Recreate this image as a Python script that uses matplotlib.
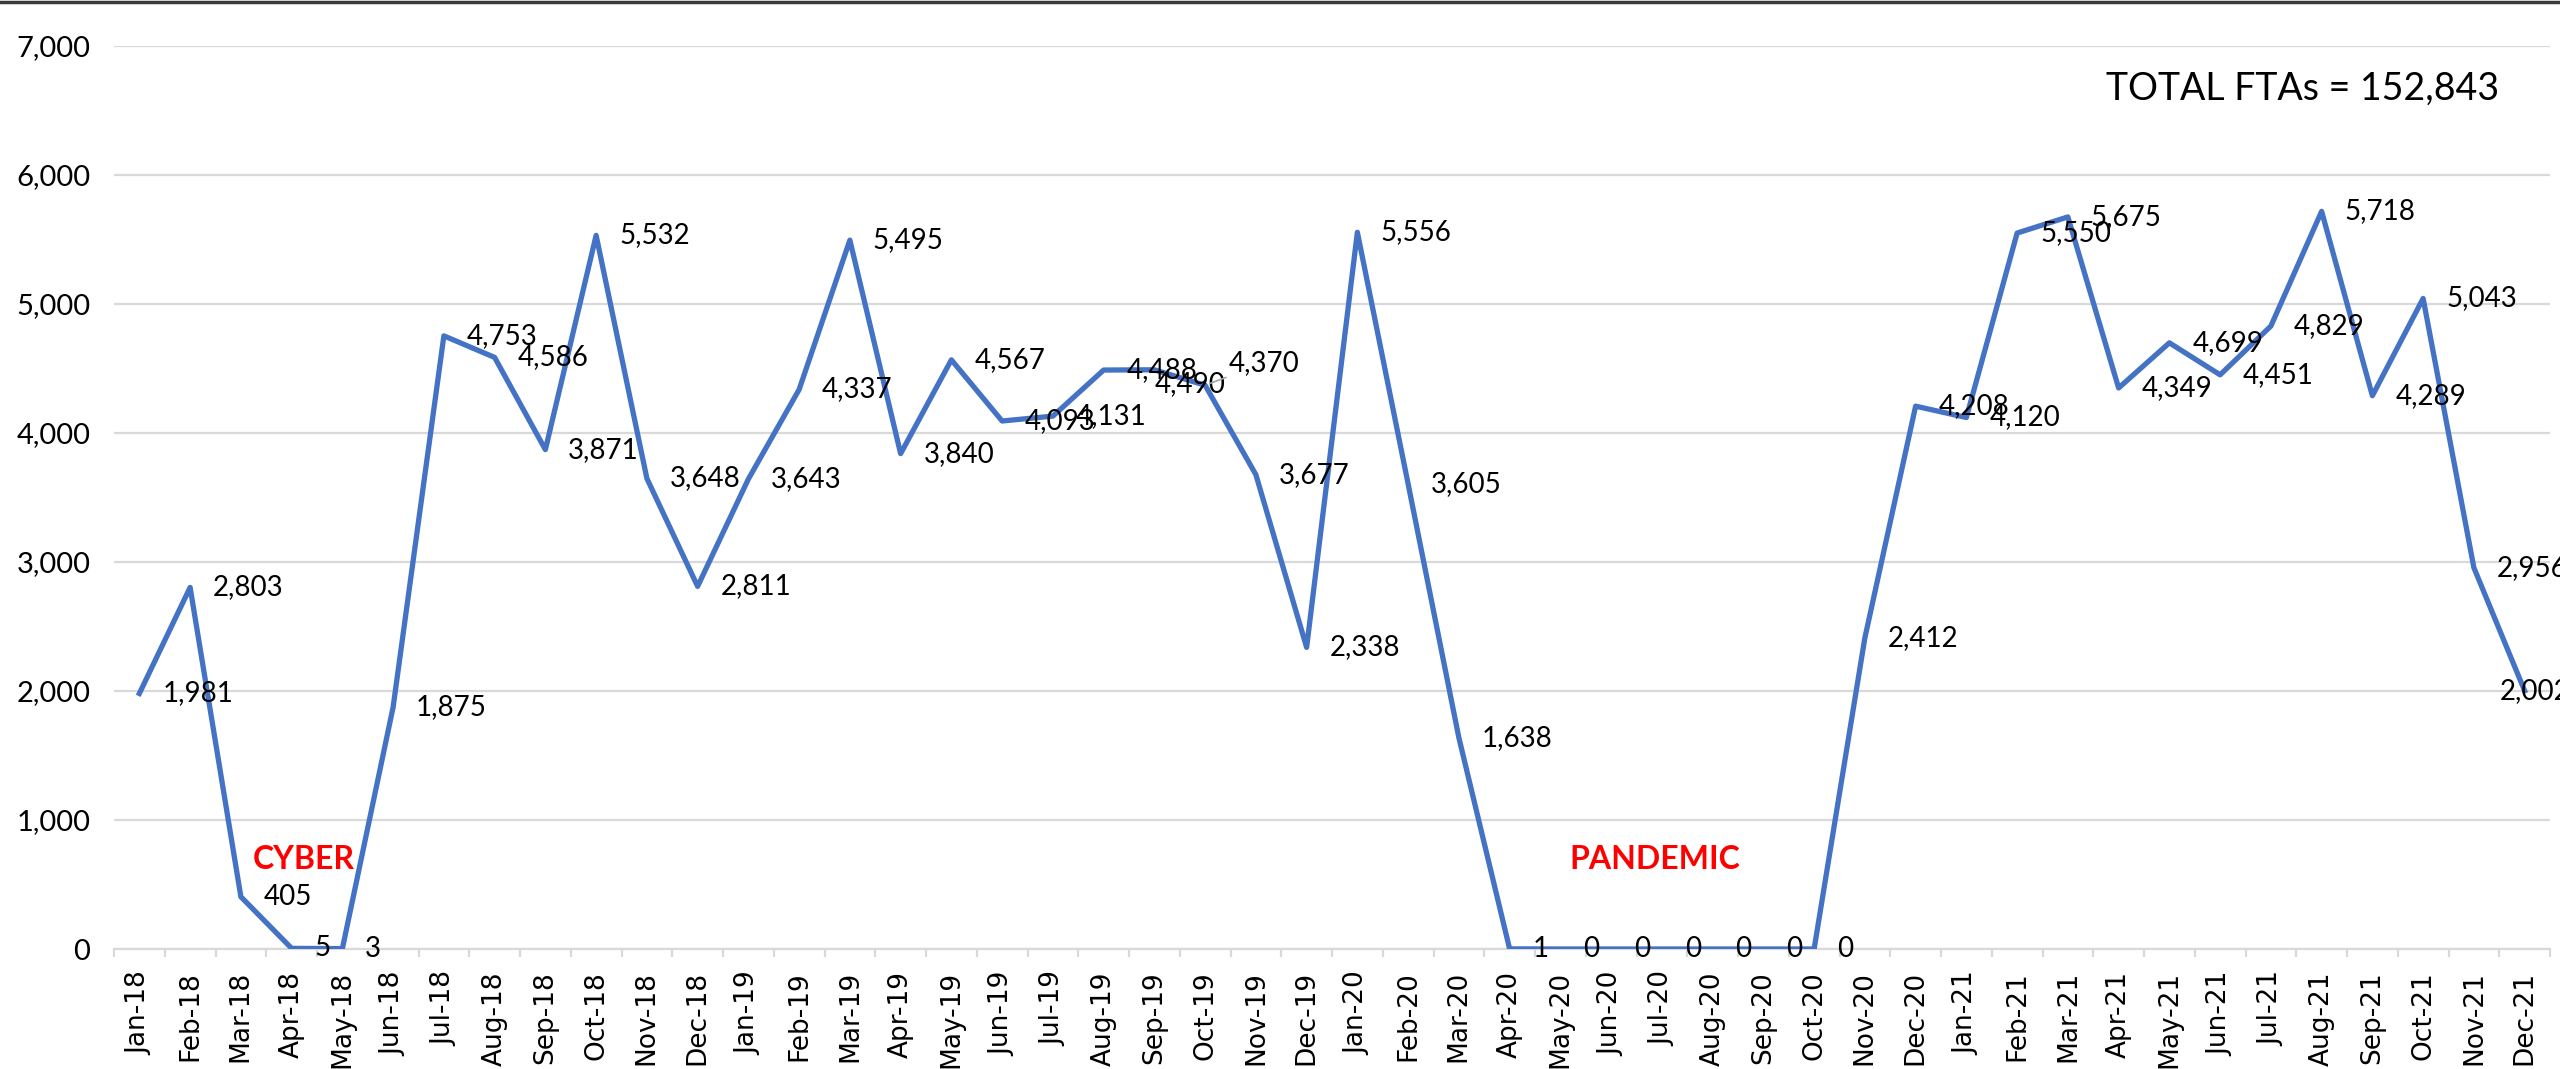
import numpy as np
import matplotlib.pyplot as plt
from matplotlib.lines import Line2D

months = ["Jan-18", "Feb-18", "Mar-18", "Apr-18", "May-18", "Jun-18",
          "Jul-18", "Aug-18", "Sep-18", "Oct-18", "Nov-18", "Dec-18",
          "Jan-19", "Feb-19", "Mar-19", "Apr-19", "May-19", "Jun-19",
          "Jul-19", "Aug-19", "Sep-19", "Oct-19", "Nov-19", "Dec-19",
          "Jan-20", "Feb-20", "Mar-20", "Apr-20", "May-20", "Jun-20",
          "Jul-20", "Aug-20", "Sep-20", "Oct-20", "Nov-20", "Dec-20",
          "Jan-21", "Feb-21", "Mar-21", "Apr-21", "May-21", "Jun-21",
          "Jul-21", "Aug-21", "Sep-21", "Oct-21", "Nov-21", "Dec-21"]

ftas = [1981, 2803, 405, 5, 3, 1875, 4753, 4586, 3871, 5532, 3648, 2811,
        3643, 4337, 5495, 3840, 4567, 4093, 4131, 4488, 4490, 4370, 3677, 2338,
        5556, 3605, 1638, 1, 0, 0, 0, 0, 0, 0, 2412, 4208,
        4120, 5550, 5675, 4349, 4699, 4451, 4829, 5718, 4289, 5043, 2956, 2002]

y_ticks = [0, 1000, 2000, 3000, 4000, 5000, 6000, 7000]

# labels that were dragged away from the default "right" spot
moved_labels = {"Sep-19": (0, -10), "Oct-19": (17, 16), "Dec-21": (-18, 0)}

calibri_like = ["Lato", "DejaVu Sans"]
blue = "#4472C4"
grey = "#D9D9D9"

fig = plt.figure(figsize=(25.6, 10.69), dpi=100)
ax = fig.add_axes([114 / 2560, 1 - 949 / 1069, (2550 - 114) / 2560, (949 - 46) / 1069])

x = np.arange(len(months))
ax.plot(x, ftas, color=blue, lw=3.8, zorder=3)

ax.set_xlim(-0.5, len(months) - 0.5)
ax.set_ylim(0, 7000)

ax.set_yticks(y_ticks)
ax.set_yticklabels([f"{v:,}" for v in y_ticks], fontsize=21, family=calibri_like)
ax.yaxis.grid(True, color=grey, lw=1.6)
ax.set_axisbelow(True)
ax.tick_params(axis="y", length=0, pad=17)

ax.set_xticks(x)
ax.set_xticklabels(months, rotation=90, fontsize=19, family="DejaVu Sans")
ax.tick_params(axis="x", which="major", length=0, pad=16)
ax.set_xticks(np.arange(-0.5, len(months), 1), minor=True)
ax.tick_params(axis="x", which="minor", length=6, width=1.6, color=grey)

for side in ["top", "right", "left"]:
    ax.spines[side].set_visible(False)
ax.spines["bottom"].set_color(grey)
ax.spines["bottom"].set_linewidth(1.6)

for m, xi, v in zip(months, x, ftas):
    dx, dy = moved_labels.get(m, (16.5, 0))
    kw = {}
    if m == "Oct-19":
        kw["arrowprops"] = dict(arrowstyle="-", color="#A6A6A6", lw=1.2, shrinkA=0, shrinkB=4)
    ax.annotate(f"{v:,}", (xi, v), xytext=(dx, dy), textcoords="offset points",
                ha="left", va="center", fontsize=20, family=calibri_like, zorder=4, **kw)

ax.text(3.24, 690, "CYBER", color="red", fontsize=23, fontweight="bold",
        family=calibri_like, ha="center", va="center")
ax.text(29.85, 690, "PANDEMIC", color="red", fontsize=23, fontweight="bold",
        family=calibri_like, ha="center", va="center")

ax.text(0.979, 0.953, "TOTAL FTAs = 152,843", transform=ax.transAxes,
        fontsize=27, family=calibri_like, ha="right", va="center")

fig.add_artist(Line2D([0, 1], [1 - 1.5 / 1069] * 2, transform=fig.transFigure,
                      color="#3A3A3A", lw=2.5))

plt.savefig("out.png", dpi=100)
